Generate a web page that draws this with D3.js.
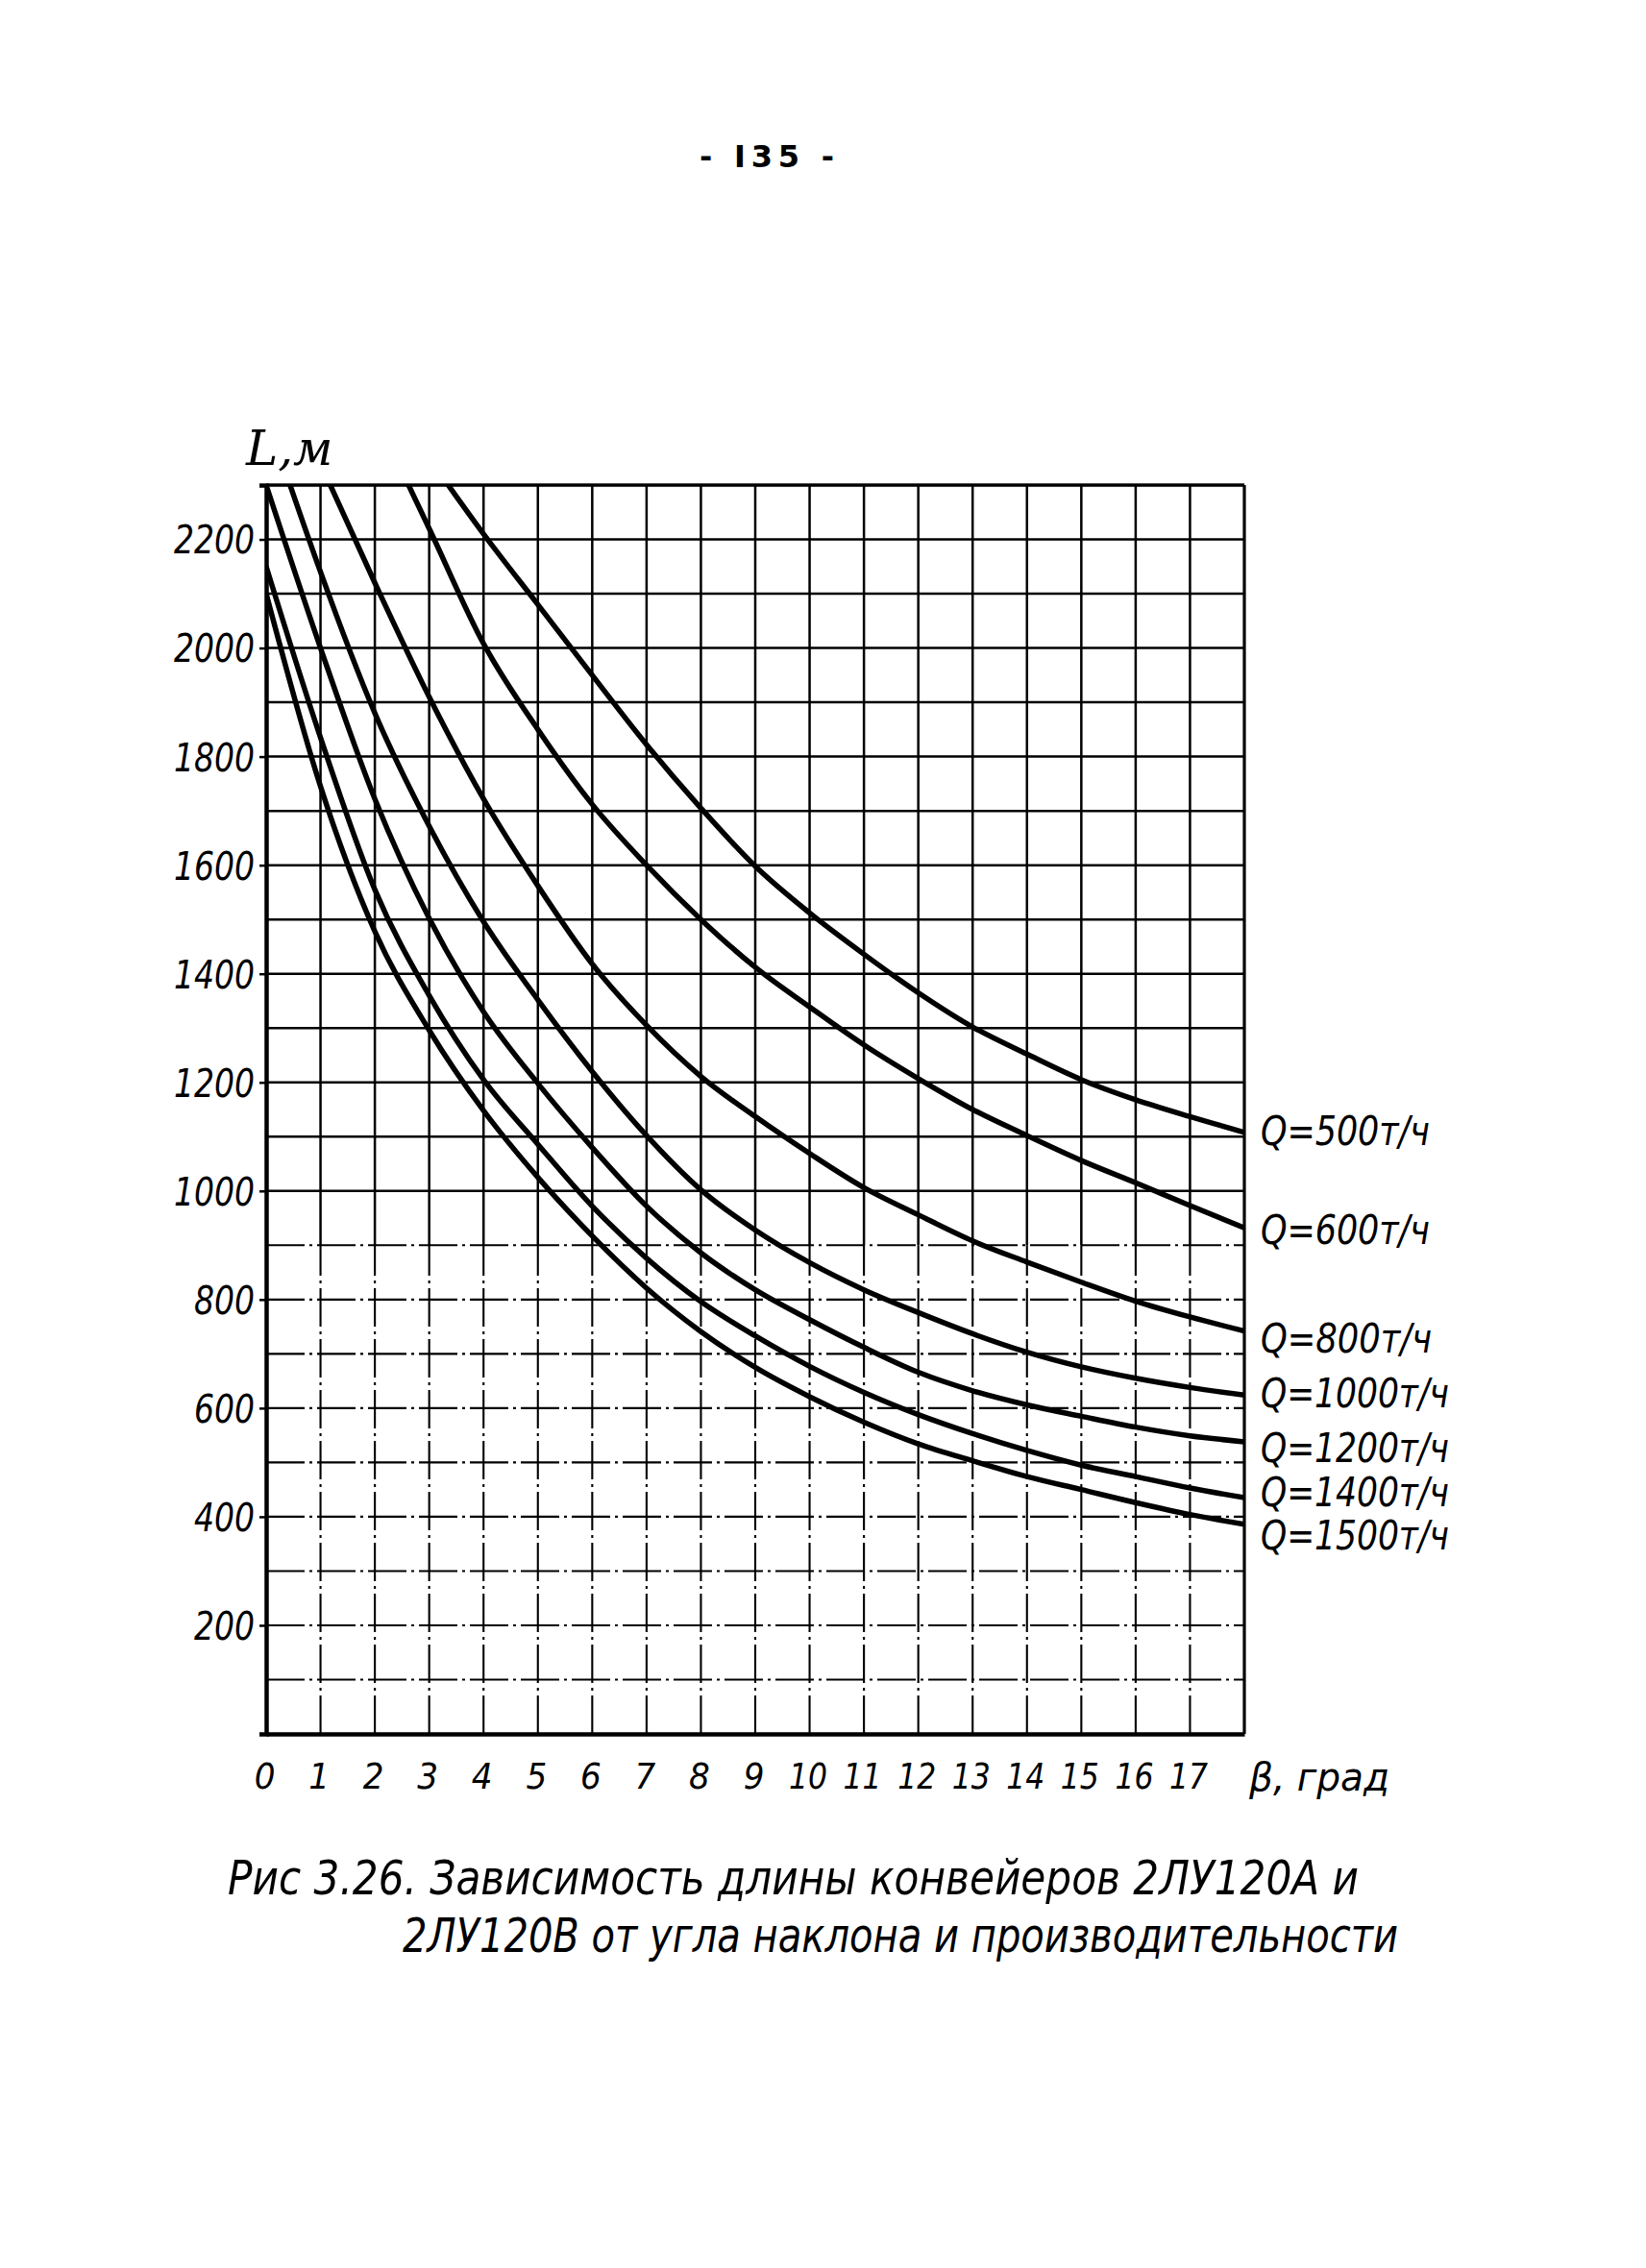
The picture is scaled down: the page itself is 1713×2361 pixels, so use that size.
<!DOCTYPE html>
<html><head><meta charset="utf-8">
<script src="https://cdn.jsdelivr.net/npm/d3@7"></script>
<style>
html,body{margin:0;padding:0;background:#fff;}
svg{display:block;}
.hand{font-family:"DejaVu Sans Condensed","DejaVu Sans",sans-serif;font-style:oblique;fill:#000;}
</style></head>
<body>
<script>
// ---- data (L, m versus β, degrees) ----
const xTicks = [0,1,2,3,4,5,6,7,8,9,10,11,12,13,14,15,16,17];
const yTicks = [200,400,600,800,1000,1200,1400,1600,1800,2000,2200];
const seriesNames = ["Q=500т/ч","Q=600т/ч","Q=800т/ч","Q=1000т/ч","Q=1200т/ч","Q=1400т/ч","Q=1500т/ч"];
const q500  = [[3.35,2300],[4,2210],[5,2080],[6,1950],[7,1822],[8,1705],[9,1598],[10,1512],[11,1436],[12,1365],[13,1302],[14,1252],[15,1205],[16,1168],[17,1137],[18,1108]];
const q600  = [[2.62,2300],[3,2220],[4,2008],[5,1850],[6,1712],[7,1600],[8,1500],[9,1412],[10,1339],[11,1269],[12,1207],[13,1150],[14,1102],[15,1056],[16,1015],[17,973],[18,932]];
const q800  = [[1.18,2300],[2,2120],[3,1910],[4,1722],[5,1562],[6,1418],[7,1305],[8,1211],[9,1137],[10,1069],[11,1006],[12,956],[13,908],[14,869],[15,832],[16,797],[17,768],[18,742]];
const q1000 = [[0.44,2300],[1,2140],[2,1880],[3,1672],[4,1496],[5,1352],[6,1220],[7,1102],[8,1002],[9,928],[10,868],[11,818],[12,776],[13,737],[14,703],[15,676],[16,655],[17,638],[18,624]];
const q1200 = [[0,2300],[1,2000],[2,1722],[3,1502],[4,1330],[5,1198],[6,1080],[7,972],[8,886],[9,818],[10,763],[11,712],[12,666],[13,632],[14,606],[15,585],[16,565],[17,549],[18,538]];
const q1400 = [[0,2150],[1,1835],[2,1555],[3,1360],[4,1205],[5,1086],[6,972],[7,876],[8,796],[9,733],[10,677],[11,629],[12,588],[13,553],[14,522],[15,495],[16,474],[17,453],[18,435]];
const q1500 = [[0,2100],[1,1745],[2,1478],[3,1296],[4,1148],[5,1025],[6,917],[7,821],[8,741],[9,675],[10,621],[11,574],[12,534],[13,503],[14,474],[15,450],[16,426],[17,404],[18,386]];
const allSeries = [q500,q600,q800,q1000,q1200,q1400,q1500];

// ---- layout ----
const W = 1713, H = 2361;
const labelDy = [13,17,22,13,21,9,26];
const labelW  = [176,176,178,196,196,196,196];

const svg = d3.select("body").append("svg").attr("width",W).attr("height",H);
svg.append("rect").attr("width",W).attr("height",H).attr("fill","#fff");

const x = d3.scaleLinear().domain([0,18]).range([277,1295]);
const y = d3.scaleLinear().domain([0,2300]).range([1805,505]);
const dashFrom = 900;

// grid
const g = svg.append("g").attr("stroke","#000");
g.selectAll("line.vs").data(d3.range(1,18)).join("line")
  .attr("x1",d=>x(d)).attr("x2",d=>x(d)).attr("y1",y(dashFrom)).attr("y2",y(2300))
  .attr("stroke-width",2.5);
g.selectAll("line.vd").data(d3.range(1,18)).join("line")
  .attr("x1",d=>x(d)).attr("x2",d=>x(d)).attr("y1",y(0)).attr("y2",y(dashFrom))
  .attr("stroke-width",2.1).attr("stroke-dasharray","40,5,3,5");
g.selectAll("line.h").data(d3.range(100,2300,100)).join("line")
  .attr("x1",x(0)).attr("x2",x(18)).attr("y1",d=>y(d)).attr("y2",d=>y(d))
  .attr("stroke-width",d=>d<=dashFrom?2.1:2.5)
  .attr("stroke-dasharray",d=>d<=dashFrom?"40,5,3,5":null);
// frame
g.append("line").attr("x1",x(0)).attr("x2",x(18)).attr("y1",y(2300)).attr("y2",y(2300)).attr("stroke-width",3.5);
g.append("line").attr("x1",x(18)).attr("x2",x(18)).attr("y1",y(0)).attr("y2",y(2300)).attr("stroke-width",3.2);

// axes
const yAx = svg.append("g").attr("transform",`translate(${x(0)},0)`)
  .call(d3.axisLeft(y).tickValues(yTicks).tickSize(7).tickPadding(5).tickFormat(d3.format("d")));
yAx.select(".domain").attr("stroke","#000").attr("stroke-width",4.5);
yAx.selectAll(".tick line").attr("stroke","#000").attr("stroke-width",2.5);
yAx.selectAll(".tick text").attr("class","hand").attr("font-size",40).attr("dy","0.36em")
  .attr("font-family",null)
  .attr("textLength",d=>d>=1000?84:63).attr("lengthAdjust","spacingAndGlyphs");

const xAx = svg.append("g").attr("transform",`translate(0,${y(0)})`)
  .call(d3.axisBottom(x).tickValues(xTicks).tickSize(0).tickPadding(30).tickFormat(d3.format("d")));
xAx.select(".domain").attr("stroke","#000").attr("stroke-width",4.5);
xAx.selectAll(".tick text").attr("class","hand").attr("font-size",38).attr("dx","-2").attr("font-family",null)
  .attr("textLength",d=>d>=10?40:null).attr("lengthAdjust","spacingAndGlyphs");

// curves
svg.append("clipPath").attr("id","plot").append("rect")
  .attr("x",x(0)).attr("y",y(2300)-1).attr("width",x(18)-x(0)).attr("height",y(0)-y(2300)+1);
const line = d3.line().x(d=>x(d[0])).y(d=>y(d[1])).curve(d3.curveMonotoneX);
svg.append("g").attr("clip-path","url(#plot)").selectAll("path").data(allSeries).join("path")
  .attr("d",line).attr("fill","none").attr("stroke","#000").attr("stroke-width",5.5)
  .attr("stroke-linecap","round").attr("stroke-linejoin","round");

// series labels
svg.selectAll("text.lab").data(allSeries).join("text").attr("class","hand lab")
  .attr("x",1312).attr("y",(d,i)=>y(d[d.length-1][1])+labelDy[i])
  .attr("font-size",42).attr("textLength",(d,i)=>labelW[i]).attr("lengthAdjust","spacingAndGlyphs")
  .text((d,i)=>seriesNames[i]);

// axis titles
svg.append("text").attr("x",256).attr("y",484).attr("font-family","DejaVu Serif").attr("font-style","italic")
  .attr("font-size",50).attr("fill","#000").text("L,м");
svg.append("text").attr("class","hand").attr("x",1300).attr("y",1864).attr("font-size",40)
  .attr("textLength",146).attr("lengthAdjust","spacingAndGlyphs").text("β, град");

// page number
svg.append("text").attr("x",728).attr("y",174).attr("font-family","DejaVu Sans")
  .attr("font-weight","bold").attr("font-size",32).attr("fill","#000")
  .attr("textLength",140).attr("lengthAdjust","spacing").text("- I35 -");

// caption
svg.append("text").attr("class","hand").attr("x",237).attr("y",1972).attr("font-size",50)
  .attr("textLength",1177).attr("lengthAdjust","spacingAndGlyphs")
  .text("Рис 3.26. Зависимость длины конвейеров 2ЛУ120А и");
svg.append("text").attr("class","hand").attr("x",419).attr("y",2032).attr("font-size",50)
  .attr("textLength",1036).attr("lengthAdjust","spacingAndGlyphs")
  .text("2ЛУ120В от угла наклона и производительности");
</script>
</body></html>
